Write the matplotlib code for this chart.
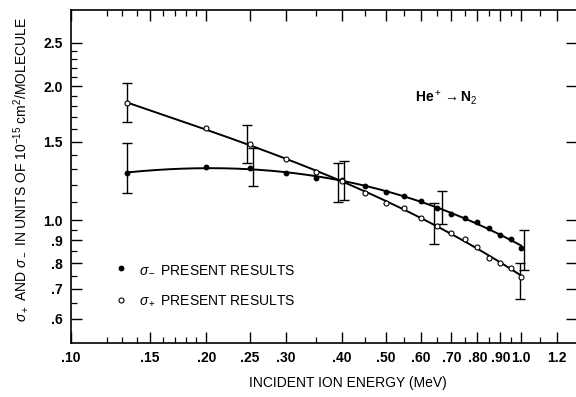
import numpy as np
import matplotlib
matplotlib.use('Agg')
import matplotlib.pyplot as plt
from matplotlib.lines import Line2D
from matplotlib.ticker import FixedLocator, FixedFormatter, NullFormatter

plt.rcParams['font.family'] = ['Liberation Sans', 'DejaVu Sans']
plt.rcParams['mathtext.fontset'] = 'custom'
plt.rcParams['mathtext.rm'] = 'Liberation Sans'
plt.rcParams['mathtext.it'] = 'Liberation Sans:italic'
plt.rcParams['mathtext.bf'] = 'Liberation Sans:bold'

# data (MeV, 1e-15 cm^2/molecule)
energy = [0.133, 0.20, 0.25, 0.30, 0.35, 0.40, 0.45, 0.50, 0.55, 0.60,
          0.65, 0.70, 0.75, 0.80, 0.85, 0.90, 0.95, 1.00]
sigma_minus = [1.275, 1.315, 1.309, 1.275, 1.246, 1.227, 1.192, 1.156, 1.132, 1.103,
               1.064, 1.032, 1.010, 0.990, 0.959, 0.925, 0.906, 0.865]
sigma_plus = [1.83, 1.61, 1.48, 1.37, 1.28, 1.224, 1.15, 1.092, 1.064, 1.01,
              0.969, 0.935, 0.906, 0.870, 0.822, 0.80, 0.78, 0.745]

# error bars
err_minus_e = [0.133, 0.254, 0.404, 0.667, 1.015]
err_minus_lo = [1.15, 1.192, 1.109, 0.979, 0.772]
err_minus_hi = [1.489, 1.451, 1.357, 1.162, 0.950]
err_plus_e = [0.133, 0.246, 0.392, 0.641, 0.995]
err_plus_lo = [1.66, 1.343, 1.098, 0.883, 0.665]
err_plus_hi = [2.03, 1.635, 1.343, 1.092, 0.80]

x_major = [0.10, 0.15, 0.20, 0.25, 0.30, 0.40, 0.50, 0.60, 0.70, 0.80, 0.90, 1.0, 1.2]
x_labels = ['.10', '.15', '.20', '.25', '.30', '.40', '.50', '.60', '.70', '.80', '.90', '1.0', '1.2']
x_minor = [0.12, 0.13, 0.14, 0.16, 0.17, 0.18, 0.19, 0.35, 0.45, 0.55, 0.65, 0.75, 0.85, 0.95, 1.1]
y_major = [0.6, 0.7, 0.8, 0.9, 1.0, 1.5, 2.0, 2.5]
y_labels = ['.6', '.7', '.8', '.9', '1.0', '1.5', '2.0', '2.5']
y_minor = [0.65, 0.75, 0.85, 0.95, 1.1, 1.2, 1.3, 1.4, 1.6, 1.7, 1.8, 1.9, 2.1, 2.2, 2.3, 2.4]

fig = plt.figure(figsize=(5.76, 3.97), dpi=100)
ax = fig.add_axes([71 / 576, 54 / 397, 506 / 576, 333 / 397])
ax.set_xscale('log')
ax.set_yscale('log')
ax.set_xlim(0.1, 1.332)
ax.set_ylim(0.5293, 2.964)

# smooth curves through the points (fit in log-log)
xs = np.geomspace(min(energy), max(energy), 200)
for vals in (sigma_minus, sigma_plus):
    c = np.polyfit(np.log10(energy), np.log10(vals), 3)
    ax.plot(xs, 10 ** np.polyval(c, np.log10(xs)), color='black', lw=1.4, zorder=2)

ax.plot(energy, sigma_minus, 'o', ms=3.2, color='black', zorder=3)
ax.plot(energy, sigma_plus, 'o', ms=3.6, mfc='white', mec='black', mew=0.8, zorder=3)

for e, lo, hi in ((err_minus_e, err_minus_lo, err_minus_hi), (err_plus_e, err_plus_lo, err_plus_hi)):
    lo = np.array(lo)
    hi = np.array(hi)
    mid = (lo + hi) / 2
    ax.errorbar(e, mid, yerr=[mid - lo, hi - mid], fmt='none', ecolor='black',
                elinewidth=1.0, capsize=3.5, capthick=1.0, zorder=2)

# ticks
ax.xaxis.set_major_locator(FixedLocator(x_major))
ax.xaxis.set_major_formatter(FixedFormatter(x_labels))
ax.xaxis.set_minor_locator(FixedLocator(x_minor))
ax.xaxis.set_minor_formatter(NullFormatter())
ax.yaxis.set_major_locator(FixedLocator(y_major))
ax.yaxis.set_major_formatter(FixedFormatter(y_labels))
ax.yaxis.set_minor_locator(FixedLocator(y_minor))
ax.yaxis.set_minor_formatter(NullFormatter())
ax.tick_params(which='major', direction='in', length=8, width=1.0, top=True, right=True,
               labelsize=10, pad=6)
ax.tick_params(which='minor', direction='in', length=4.5, width=0.9, top=True, right=False)
for lab in ax.get_xticklabels() + ax.get_yticklabels():
    lab.set_fontweight('bold')
ax.spines['right'].set_visible(False)
for s in ('left', 'top', 'bottom'):
    ax.spines[s].set_linewidth(1.2)

ax.set_xlabel('INCIDENT ION ENERGY (MeV)', fontsize=10)
ax.xaxis.set_label_coords(0.547, -0.10)
ax.set_ylabel(r'$\sigma_+$ AND $\sigma_-$ IN UNITS OF 10$^{-15}$ cm$^2$/MOLECULE',
              fontsize=10)
ax.yaxis.set_label_coords(-0.082, 0.52)

ax.text(0.741, 0.736, r'He$^+$$\rightarrow$N$_2$', transform=ax.transAxes,
        ha='center', va='center', fontsize=10, fontweight='bold')

handles = [Line2D([], [], ls='none', marker='o', ms=3.2, color='black'),
           Line2D([], [], ls='none', marker='o', ms=3.6, mfc='white', mec='black', mew=0.8)]
ax.legend(handles, [r'$\sigma_-$ PRESENT RESULTS', r'$\sigma_+$ PRESENT RESULTS'],
          loc='upper left', bbox_to_anchor=(0.06, 0.28), frameon=False, fontsize=10,
          handlelength=1.0, handletextpad=0.8, labelspacing=1.25)

fig.savefig('out.png', dpi=100)
